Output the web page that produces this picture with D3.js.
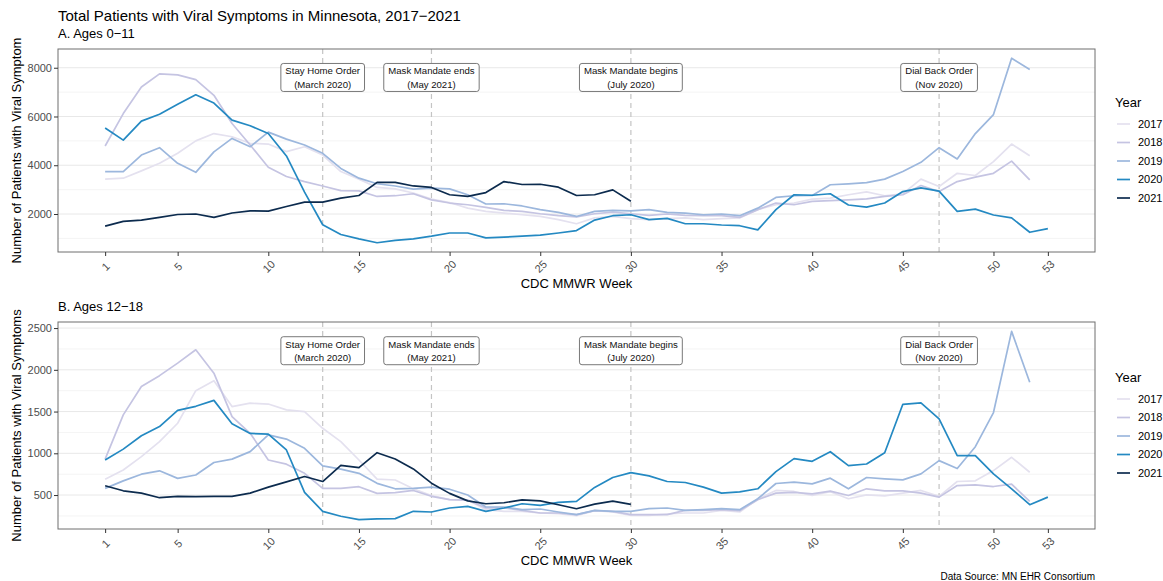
<!DOCTYPE html>
<html>
<head>
<meta charset="utf-8">
<script src="https://cdn.jsdelivr.net/npm/d3@7"></script>
<style>
  body { margin: 0; background: #fff; }
  svg { font-family: "Liberation Sans", Arial, sans-serif; }
</style>
</head>
<body>
<div id="chart"></div>
<script>
// ---- data ----
const years = ["2017", "2018", "2019", "2020", "2021"];
const colors = ["#e4e1ef", "#c5c4e2", "#9cb7dd", "#2489c2", "#0c2b4e"];
const xTicks = [1, 5, 10, 15, 20, 25, 30, 35, 40, 45, 50, 53];

// A. ages 0-11, one value per week starting at week 1
const kids2017 = [3430,3470,3770,4080,4490,5000,5300,5170,4900,4870,4560,4760,4420,3740,3430,3090,3030,2860,2610,2470,
  2240,2110,2040,1970,1900,1770,1600,1840,1900,1810,1770,1810,1840,1770,1810,1840,2180,2380,2450,2610,
  2650,2790,2910,2750,2830,3430,3130,3670,3580,4150,4870,4390];
const kids2018 = [4790,6120,7210,7750,7710,7510,6870,5710,4830,3920,3540,3330,3150,2960,2950,2720,2750,2830,2580,2450,
  2380,2270,2150,2110,2010,1930,1880,2010,2080,2010,1940,2000,1940,1930,1930,1860,2180,2450,2380,2520,
  2550,2580,2620,2720,2790,3170,2920,3330,3510,3670,4170,3400];
const kids2019 = [3740,3740,4420,4720,4080,3710,4550,5100,4760,5360,5070,4830,4490,3870,3470,3240,3150,3020,3060,3030,
  2790,2410,2420,2330,2180,2070,1900,2110,2150,2130,2180,2070,2040,1970,2000,1930,2240,2680,2750,2760,
  3200,3240,3290,3430,3740,4120,4720,4260,5300,6080,8390,7930];
const kids2020 = [5530,5030,5810,6090,6500,6890,6550,5850,5620,5300,4380,2900,1560,1160,980,820,920,980,1090,1220,
  1220,1020,1050,1090,1130,1220,1320,1750,1930,1970,1770,1820,1600,1600,1550,1520,1350,2180,2790,2770,
  2830,2370,2280,2450,2920,3070,2940,2110,2200,1960,1840,1250,1400];
const kids2021 = [1500,1700,1750,1860,1980,2000,1860,2040,2130,2120,2310,2490,2490,2650,2760,3300,3300,3150,3090,2790,
  2720,2880,3330,3210,3220,3100,2760,2790,2990,2520];

// B. ages 12-18
const teens2017 = [690,800,960,1140,1360,1750,1870,1560,1600,1590,1520,1500,1300,1140,920,690,680,575,495,445,
  440,325,305,305,285,277,253,313,297,257,257,273,285,285,317,297,452,555,543,495,
  540,456,503,491,523,555,484,662,670,793,952,773];
const teens2018 = [930,1460,1800,1930,2080,2240,1960,1440,1240,920,870,760,580,580,600,520,530,555,485,445,
  440,345,345,317,285,285,265,313,305,265,265,265,317,317,325,313,444,523,531,515,
  547,495,575,551,551,523,475,614,622,602,630,424];
const teens2019 = [580,670,750,790,700,740,890,930,1020,1220,1170,1060,850,810,760,640,575,580,595,570,
  500,357,357,325,333,297,265,317,305,305,337,345,317,325,337,325,456,638,654,634,
  702,575,710,694,682,754,912,817,1079,1488,2460,1852];
const teens2020 = [920,1050,1210,1320,1515,1563,1634,1353,1238,1230,1040,531,305,246,206,214,218,305,297,345,
  365,305,345,396,376,412,424,591,710,769,729,662,650,595,523,539,575,781,936,904,
  1019,852,872,1007,1587,1603,1412,972,972,754,575,384,475];
const teens2021 = [611,551,523,468,484,480,484,484,523,595,658,722,662,856,829,1007,932,813,642,520,
  430,396,408,443,431,384,336,392,428,388];

const eventWeeks = [13, 19, 30, 47];
const eventTitles = ["Stay Home Order", "Mask Mandate ends", "Mask Mandate begins", "Dial Back Order"];
const eventDates = ["(March 2020)", "(May 2021)", "(July 2020)", "(Nov 2020)"];

// ---- layout ----
const W = 1163, H = 581;
const left = 58, right = 1095;

const svg = d3.select("#chart").append("svg")
  .attr("width", W).attr("height", H);

svg.append("text")
  .attr("x", left).attr("y", 21)
  .attr("font-size", 15)
  .text("Total Patients with Viral Symptoms in Minnesota, 2017\u22122021");

const x = d3.scaleLinear().domain([1 - 2.6, 53 + 2.6]).range([left, right]);

function drawPanel(opts) {
  const { top, bottom, series, yTicks, yMinor, subtitle, yTitle } = opts;
  const all = series.flat();
  const [mn, mx] = d3.extent(all);
  const pad = (mx - mn) * 0.05;
  const y = d3.scaleLinear().domain([mn - pad, mx + pad]).range([bottom, top]);

  svg.append("text")
    .attr("x", left).attr("y", top - 11)
    .attr("font-size", 13)
    .text(subtitle);

  const g = svg.append("g");

  // grid
  g.selectAll(".minor").data(yMinor).join("line")
    .attr("x1", left).attr("x2", right)
    .attr("y1", d => y(d)).attr("y2", d => y(d))
    .attr("stroke", "#f1f1f1").attr("stroke-width", 0.8);
  g.selectAll(".major").data(yTicks).join("line")
    .attr("x1", left).attr("x2", right)
    .attr("y1", d => y(d)).attr("y2", d => y(d))
    .attr("stroke", "#e8e8e8").attr("stroke-width", 1);

  // event lines
  g.selectAll(".vline").data(eventWeeks).join("line")
    .attr("x1", d => x(d)).attr("x2", d => x(d))
    .attr("y1", top).attr("y2", bottom)
    .attr("stroke", "#c4c4c4").attr("stroke-width", 1.2)
    .attr("stroke-dasharray", "5,4");

  // data lines
  const line = d3.line()
    .x((d, i) => x(i + 1))
    .y(d => y(d));
  series.forEach((s, i) => {
    g.append("path")
      .datum(s)
      .attr("fill", "none")
      .attr("stroke", colors[i])
      .attr("stroke-width", 1.7)
      .attr("stroke-linejoin", "round")
      .attr("d", line);
  });

  // event labels
  const labelY = y(mx * 0.906);
  eventWeeks.forEach((wk, i) => {
    const lg = g.append("g").attr("transform", `translate(${x(wk)},${labelY})`);
    const rect = lg.append("rect").attr("fill", "#fff").attr("stroke", "#555")
      .attr("stroke-width", 0.8).attr("rx", 2.5);
    const t1 = lg.append("text").attr("text-anchor", "middle").attr("y", -3)
      .attr("font-size", 9.6).attr("fill", "#111").text(eventTitles[i]);
    const t2 = lg.append("text").attr("text-anchor", "middle").attr("y", 10.3)
      .attr("font-size", 9.6).attr("fill", "#111").text(eventDates[i]);
    const w = Math.max(t1.node().getComputedTextLength(), t2.node().getComputedTextLength()) + 9;
    rect.attr("x", -w / 2).attr("y", -14).attr("width", w).attr("height", 28);
  });

  // border
  g.append("rect")
    .attr("x", left).attr("y", top)
    .attr("width", right - left).attr("height", bottom - top)
    .attr("fill", "none").attr("stroke", "#6e6e6e").attr("stroke-width", 1);

  // y axis
  const yAxis = svg.append("g")
    .attr("transform", `translate(${left},0)`)
    .call(d3.axisLeft(y).tickValues(yTicks).tickSize(4).tickPadding(2).tickFormat(d3.format("d")));
  yAxis.select(".domain").remove();
  yAxis.selectAll("line").attr("stroke", "#333");
  yAxis.selectAll("text").attr("font-size", 11).attr("fill", "#4d4d4d")
    .attr("font-family", "Liberation Sans, Arial, sans-serif");

  // x axis
  const xAxis = svg.append("g")
    .attr("transform", `translate(0,${bottom})`)
    .call(d3.axisBottom(x).tickValues(xTicks).tickSize(4).tickFormat(d3.format("d")));
  xAxis.select(".domain").remove();
  xAxis.selectAll("line").attr("stroke", "#333");
  xAxis.selectAll("text")
    .attr("font-size", 11).attr("fill", "#4d4d4d")
    .attr("font-family", "Liberation Sans, Arial, sans-serif")
    .attr("text-anchor", "middle")
    .attr("y", 0).attr("dy", "0.35em")
    .attr("transform", "translate(0,14.5) rotate(-45)");

  svg.append("text")
    .attr("x", (left + right) / 2).attr("y", bottom + 36)
    .attr("text-anchor", "middle").attr("font-size", 13)
    .text("CDC MMWR Week");

  svg.append("text")
    .attr("transform", `translate(21,${(top + bottom) / 2}) rotate(-90)`)
    .attr("text-anchor", "middle").attr("font-size", 13)
    .text(yTitle);

  // legend
  const leg = svg.append("g").attr("transform", `translate(1115,${(top + bottom) / 2 - 48})`);
  leg.append("text").attr("x", 0).attr("y", 4.5).attr("font-size", 13).text("Year");
  years.forEach((yr, i) => {
    const yy = 21.5 + i * 18.5;
    leg.append("line").attr("x1", 2).attr("x2", 15).attr("y1", yy).attr("y2", yy)
      .attr("stroke", colors[i]).attr("stroke-width", 1.7);
    leg.append("text").attr("x", 23).attr("y", yy).attr("dy", "0.35em")
      .attr("font-size", 11).text(yr);
  });
}

drawPanel({
  top: 49, bottom: 252,
  series: [kids2017, kids2018, kids2019, kids2020, kids2021],
  yTicks: [2000, 4000, 6000, 8000],
  yMinor: [1000, 3000, 5000, 7000],
  subtitle: "A. Ages 0\u221211",
  yTitle: "Number of Patients with Viral Symptom"
});

drawPanel({
  top: 322, bottom: 529,
  series: [teens2017, teens2018, teens2019, teens2020, teens2021],
  yTicks: [500, 1000, 1500, 2000, 2500],
  yMinor: [250, 750, 1250, 1750, 2250],
  subtitle: "B. Ages 12\u221218",
  yTitle: "Number of Patients with Viral Symptoms"
});

svg.append("text")
  .attr("x", right).attr("y", 580)
  .attr("text-anchor", "end").attr("font-size", 10)
  .text("Data Source: MN EHR Consortium");
</script>
</body>
</html>
